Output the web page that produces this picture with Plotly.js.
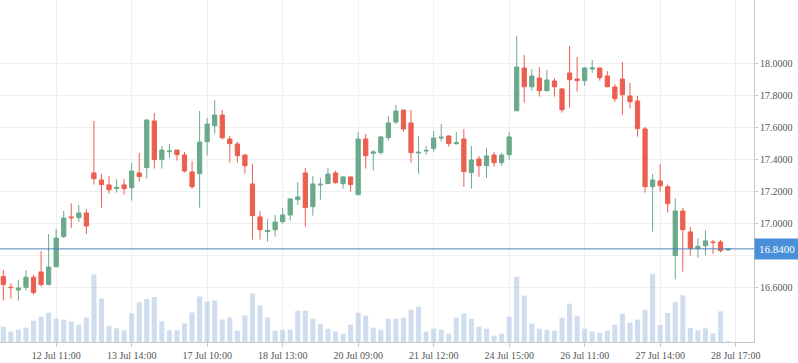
<!DOCTYPE html>
<html>
<head>
<meta charset="utf-8">
<script src="https://cdn.plot.ly/plotly-3.0.1.min.js"></script>
<style>
html,body{margin:0;padding:0;background:#fff;}
#chart{width:798px;height:363px;}
</style>
</head>
<body>
<div id="chart"></div>
<script>
var openP = [16.667,16.600,16.583,16.600,16.663,16.696,16.617,16.729,16.917,17.040,
17.035,17.065,17.315,17.271,17.240,17.217,17.240,17.223,17.315,17.348,
17.640,17.398,17.448,17.458,17.427,17.321,17.310,17.510,17.610,17.677,
17.527,17.496,17.427,17.246,17.040,16.948,16.960,17.010,17.052,17.148,
17.315,17.104,17.240,17.248,17.315,17.248,17.290,17.179,17.527,17.438,
17.442,17.535,17.633,17.708,17.627,17.440,17.452,17.467,17.533,17.546,
17.498,17.527,17.317,17.402,17.360,17.427,17.379,17.429,17.704,17.971,
17.854,17.908,17.829,17.890,17.840,17.940,17.902,17.892,17.965,17.971,
17.921,17.852,17.902,17.796,17.765,17.590,17.229,17.265,17.229,16.798,
17.077,16.946,16.842,16.860,16.883,16.883,16.833];
var highP = [16.708,16.625,16.646,16.708,16.679,16.827,16.933,16.965,17.077,17.125,
17.115,17.090,17.640,17.308,17.296,17.275,17.277,17.377,17.440,17.650,
17.690,17.483,17.496,17.460,17.446,17.390,17.702,17.658,17.771,17.708,
17.546,17.508,17.430,17.371,17.077,17.027,17.052,17.096,17.158,17.258,
17.346,17.296,17.283,17.346,17.327,17.296,17.290,17.571,17.558,17.458,
17.546,17.671,17.740,17.710,17.708,17.546,17.483,17.577,17.621,17.550,
17.571,17.590,17.483,17.421,17.471,17.446,17.440,17.571,18.171,18.052,
17.965,17.977,17.958,17.908,17.846,18.108,18.040,17.977,18.021,17.971,
17.952,17.871,18.008,17.877,17.796,17.602,17.308,17.371,17.242,17.158,
17.096,16.977,16.906,16.956,16.896,16.896,16.842];
var lowP = [16.517,16.529,16.517,16.579,16.554,16.604,16.612,16.725,16.908,16.971,
17.008,16.933,17.242,17.098,17.185,17.192,17.179,17.142,17.260,17.279,
17.342,17.342,17.410,17.392,17.317,17.217,17.098,17.423,17.560,17.523,
17.379,17.379,17.310,16.898,16.898,16.885,16.917,16.998,17.017,17.115,
16.979,17.048,17.148,17.246,17.248,17.217,17.198,17.177,17.342,17.329,
17.429,17.517,17.621,17.571,17.379,17.310,17.429,17.448,17.510,17.479,
17.492,17.227,17.217,17.290,17.283,17.354,17.360,17.398,17.700,17.754,
17.829,17.792,17.823,17.792,17.692,17.723,17.823,17.860,17.940,17.892,
17.850,17.760,17.679,17.717,17.542,17.192,16.948,17.198,17.067,16.650,
16.698,16.798,16.785,16.800,16.810,16.817,16.830];
var closeP = [16.617,16.598,16.596,16.663,16.567,16.617,16.727,16.908,17.033,17.035,
17.065,16.983,17.279,17.242,17.210,17.225,17.217,17.327,17.292,17.646,
17.398,17.458,17.452,17.429,17.327,17.229,17.508,17.621,17.677,17.535,
17.498,17.423,17.360,17.048,16.960,16.956,17.008,17.052,17.152,17.165,
17.098,17.246,17.244,17.308,17.254,17.290,17.242,17.527,17.423,17.446,
17.540,17.627,17.702,17.590,17.442,17.444,17.456,17.533,17.538,17.498,
17.504,17.323,17.396,17.360,17.421,17.379,17.427,17.540,17.977,17.854,
17.921,17.829,17.896,17.854,17.710,17.898,17.892,17.971,17.971,17.910,
17.854,17.779,17.804,17.760,17.592,17.229,17.271,17.235,17.123,17.077,
16.960,16.842,16.856,16.890,16.880,16.829,16.840];
var volume = [15.3,10.3,12.3,14.3,21.3,25.3,29.3,23.3,22.3,20.3,
17.3,24.3,67.5,43.5,16.0,13.7,11.7,28.7,39.7,43.0,
45.0,20.7,11.7,11.7,18.7,29.5,45.5,40.5,41.5,22.5,
24.5,11.5,26.5,48.5,36.5,24.5,11.3,12.3,12.3,31.3,
31.3,23.3,18.3,13.3,10.3,8.3,17.3,29.3,26.3,14.3,
12.3,23.3,23.3,24.3,32.3,35.3,10.3,13.3,12.3,8.3,
24.3,28.3,23.3,15.3,13.3,6.3,8.3,25.3,65.3,46.3,
18.3,13.3,12.3,11.3,24.3,38.3,26.3,13.3,10.3,9.3,
11.3,17.3,28.3,19.3,22.3,32.2,68.0,17.0,29.0,40.0,
46.7,14.0,11.7,13.7,8.7,30.7,0.8];
var tickIndex = [7,17,27,37,47,57,67,77,87,97];
var tickLabels = ['12 Jul 11:00','13 Jul 14:00','17 Jul 10:00','18 Jul 13:00','20 Jul 09:00',
'21 Jul 12:00','24 Jul 15:00','26 Jul 11:00','27 Jul 14:00','28 Jul 17:00'];
var priceTicks = [16.6,16.8,17.0,17.2,17.4,17.6,17.8,18.0];
// the 16.8000 label is hidden behind the last-price marker in the reference
var priceTickLabels = ['16.6000','','17.0000','17.2000','17.4000','17.6000','17.8000','18.0000'];

var idx = closeP.map(function(_, i){ return i; });
var lastPrice = closeP[closeP.length - 1];
var upColor = '#6aaa8b';
var downColor = '#ec5f4f';
var font = 'Liberation Serif, Times New Roman, serif';

var volTrace = {
  type: 'bar', x: idx, y: volume, yaxis: 'y2',
  marker: {color: 'rgba(168,193,224,0.55)', line: {width: 0}},
  hoverinfo: 'skip', showlegend: false
};
var candleTrace = {
  type: 'candlestick', x: idx, open: openP, high: highP, low: lowP, close: closeP,
  increasing: {line: {color: upColor, width: 1}, fillcolor: upColor},
  decreasing: {line: {color: downColor, width: 1}, fillcolor: downColor},
  whiskerwidth: 0, hoverinfo: 'skip', showlegend: false
};

var layout = {
  width: 798, height: 363,
  margin: {l: 0, r: 44, t: 0, b: 21, pad: 0},
  paper_bgcolor: '#ffffff', plot_bgcolor: '#ffffff',
  showlegend: false,
  boxgap: 0.25, boxgroupgap: 0.25, bargap: 0.33,
  font: {family: font, size: 10, color: '#555555'},
  xaxis: {
    type: 'linear', range: [-0.44, 99.43],
    tickmode: 'array', tickvals: tickIndex, ticktext: tickLabels,
    showgrid: true, gridcolor: '#efefef', gridwidth: 1,
    zeroline: false, showline: true, linecolor: '#c8c8c8', linewidth: 1,
    ticks: 'outside', ticklen: 4, tickcolor: '#c8c8c8',
    tickfont: {family: font, size: 10, color: '#555555'},
    rangeslider: {visible: false}, fixedrange: true
  },
  yaxis: {
    side: 'right', range: [16.258, 18.396],
    tickmode: 'array', tickvals: priceTicks, ticktext: priceTickLabels,
    showgrid: true, gridcolor: '#efefef', gridwidth: 1,
    zeroline: false, showline: true, linecolor: '#c8c8c8', linewidth: 1,
    ticks: 'outside', ticklen: 3, tickcolor: '#c8c8c8',
    tickfont: {family: font, size: 10, color: '#555555'},
    fixedrange: true
  },
  yaxis2: {
    overlaying: 'y', side: 'right', range: [0, 342],
    visible: false, showgrid: false, zeroline: false, fixedrange: true
  },
  shapes: [{
    type: 'line', xref: 'paper', x0: 0, x1: 1, yref: 'y', y0: lastPrice, y1: lastPrice,
    line: {color: '#4a80bd', width: 1}
  }],
  annotations: [{
    xref: 'paper', x: 1, xanchor: 'left', yref: 'y', y: lastPrice, yanchor: 'middle',
    text: lastPrice.toFixed(4), showarrow: false,
    bgcolor: '#4a90d9', borderpad: 2, width: 40, height: 16,
    font: {family: font, size: 11, color: '#ffffff'}
  }]
};

Plotly.newPlot('chart', [volTrace, candleTrace], layout, {staticPlot: true, displayModeBar: false});
</script>
</body>
</html>
